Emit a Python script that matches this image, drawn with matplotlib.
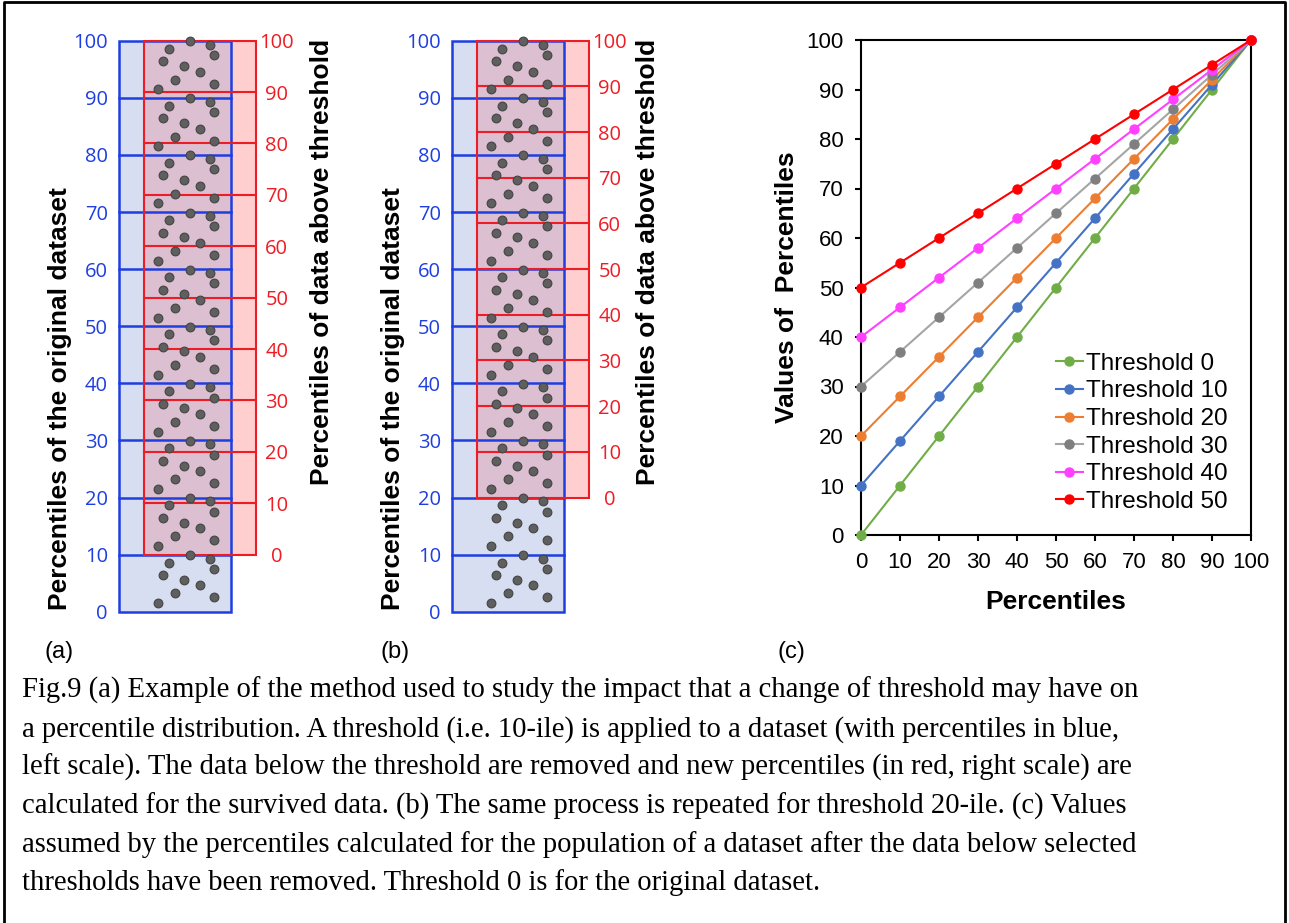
import numpy as np
import matplotlib.pyplot as plt
from matplotlib.patches import Rectangle
from matplotlib.lines import Line2D

# ---- data ----
blue_ticks = [0, 10, 20, 30, 40, 50, 60, 70, 80, 90, 100]
red_ticks = [0, 10, 20, 30, 40, 50, 60, 70, 80, 90, 100]
thresholds_ab = [10, 20]          # panels (a) and (b)

# dot pattern inside one decile of the box (x as fraction of box width, y in percentile units)
dot_x = [0.35, 0.50, 0.39, 0.45, 0.58, 0.72, 0.85, 0.85, 0.81, 0.63]
dot_y = [1.5, 3.2, 6.4, 8.6, 5.6, 4.6, 2.5, 7.5, 9.3, 9.9]
deciles = [0, 10, 20, 30, 40, 50, 60, 70, 80, 90]

percentiles = [0, 10, 20, 30, 40, 50, 60, 70, 80, 90, 100]
series_labels = ["Threshold 0", "Threshold 10", "Threshold 20",
                 "Threshold 30", "Threshold 40", "Threshold 50"]
thr0 = [0, 10, 20, 30, 40, 50, 60, 70, 80, 90, 100]
thr10 = [10, 19, 28, 37, 46, 55, 64, 73, 82, 91, 100]
thr20 = [20, 28, 36, 44, 52, 60, 68, 76, 84, 92, 100]
thr30 = [30, 37, 44, 51, 58, 65, 72, 79, 86, 93, 100]
thr40 = [40, 46, 52, 58, 64, 70, 76, 82, 88, 94, 100]
thr50 = [50, 55, 60, 65, 70, 75, 80, 85, 90, 95, 100]
series = [thr0, thr10, thr20, thr30, thr40, thr50]
series_colors = ["#70ad47", "#4472c4", "#ed7d31", "#a5a5a5", "#ff40ff", "#ff0000"]
marker_colors = ["#70ad47", "#4472c4", "#ed7d31", "#7f7f7f", "#ff40ff", "#ff0000"]

caption = [
    "Fig.9 (a) Example of the method used to study the impact that a change of threshold may have on",
    "a percentile distribution. A threshold (i.e. 10-ile) is applied to a dataset (with percentiles in blue,",
    "left scale). The data below the threshold are removed and new percentiles (in red, right scale) are",
    "calculated for the survived data. (b) The same process is repeated for threshold 20-ile. (c) Values",
    "assumed by the percentiles calculated for the population of a dataset after the data below selected",
    "thresholds have been removed. Threshold 0 is for the original dataset.",
]

W, H = 1289, 923
BLUE = "#1f3ee0"
RED = "#ee1c24"
SANS = ["Liberation Sans", "DejaVu Sans"]

fig = plt.figure(figsize=(W / 100, H / 100), dpi=100)


def px_axes(left, top, right, bottom):
    return fig.add_axes([left / W, 1 - bottom / H, (right - left) / W, (bottom - top) / H])


def ftext(x, y, s, **kw):
    return fig.text(x / W, 1 - y / H, s, **kw)


def box_panel(left, thr):
    # blue box is 112 px wide, red box shifted 25 px to the right
    ax = px_axes(left, 40.7, left + 137, 611.7)
    ax.set_xlim(0, 137 / 112)
    ax.set_ylim(0, 100)
    axr = ax.twinx()
    axr.set_ylim(-thr * 100 / (100 - thr), 100)
    for a in (ax, axr):
        for s in a.spines.values():
            s.set_visible(False)
        a.set_xticks([])
    ax.patch.set_visible(False)

    rx0, rx1 = 25 / 112, 137 / 112
    # fills
    ax.add_patch(Rectangle((0, 0), 1, 100, fc="#d7def1", ec="none", zorder=1))
    ax.add_patch(Rectangle((rx0, 0), rx1 - rx0, 100, fc="#ffcfcf", ec="none",
                           transform=axr.transData, zorder=1.1))
    ax.add_patch(Rectangle((rx0, thr), 1 - rx0, 100 - thr, fc="#dcbfd0", ec="none", zorder=1.2))

    # blue grid
    for t in blue_ticks[1:-1]:
        ax.add_line(Line2D([0, 1], [t, t], color=BLUE, lw=1.8, zorder=2, clip_on=False))
    ax.add_patch(Rectangle((0, 0), 1, 100, fc="none", ec=BLUE, lw=1.8, zorder=2, clip_on=False))

    # red grid
    for t in red_ticks[1:-1]:
        ax.add_line(Line2D([rx0, rx1], [t, t], color=RED, lw=1.5, zorder=3, clip_on=False,
                           transform=axr.transData))
    ax.add_patch(Rectangle((rx0, 0), rx1 - rx0, 100, fc="none", ec=RED, lw=1.5, zorder=3,
                           clip_on=False, transform=axr.transData))

    # data points
    xs = [x for d in deciles for x in dot_x]
    ys = [d + y for d in deciles for y in dot_y]
    ax.plot(xs, ys, "o", ms=6.3, mfc="#5f5f5f", mec="#444444", mew=0.8, zorder=4, clip_on=False)

    ax.set_yticks(blue_ticks)
    ax.tick_params(axis="y", length=0, pad=8, labelcolor=BLUE, labelsize=14.5)
    axr.set_yticks(red_ticks)
    axr.tick_params(axis="y", length=0, pad=15, labelcolor=RED, labelsize=14.5)
    for lab in ax.get_yticklabels() + axr.get_yticklabels():
        lab.set_fontfamily(["Open Sans", "DejaVu Sans"])
    for lab in axr.get_yticklabels():
        lab.set_horizontalalignment("center")
    return ax


box_panel(119, thresholds_ab[0])
box_panel(452, thresholds_ab[1])

lab_kw = dict(rotation=90, ha="center", va="center", fontsize=19, fontweight="bold", family=SANS)
ftext(60, 399, "Percentiles of the original dataset", **lab_kw)
ftext(322, 262, "Percentiles of data above threshold", **lab_kw)
ftext(393, 399, "Percentiles of the original dataset", **lab_kw)
ftext(648, 262, "Percentiles of data above threshold", **lab_kw)

# ---- panel (c) ----
axc = px_axes(861, 40, 1251, 535)
for ys, lab, c, mc in zip(series, series_labels, series_colors, marker_colors):
    axc.plot(percentiles, ys, "-o", color=c, lw=1.5, ms=6.5, mfc=mc, mec=mc,
             label=lab, clip_on=False, zorder=3)
axc.set_xlim(0, 100)
axc.set_ylim(0, 100)
axc.set_xticks(percentiles)
axc.set_yticks(percentiles)
for s in axc.spines.values():
    s.set_linewidth(1.5)
axc.tick_params(direction="out", length=4.5, width=1.5, labelsize=16, pad=8)
for lab in axc.get_xticklabels() + axc.get_yticklabels():
    lab.set_fontfamily(SANS)
axc.set_xlabel("Percentiles", fontsize=19, fontweight="bold", family=SANS, labelpad=12)
axc.set_ylabel("Values of  Percentiles", fontsize=19, fontweight="bold", family=SANS, labelpad=5)
leg = axc.legend(loc="upper left", bbox_to_anchor=(0.50, 0.368), frameon=False,
                 borderpad=0, borderaxespad=0, handlelength=1.1, handletextpad=0.15,
                 labelspacing=0.23, prop={"family": SANS, "size": 17.5})

# panel labels
for x, s in [(45, "(a)"), (380, "(b)"), (778, "(c)")]:
    ftext(x, 652, s, ha="left", va="center", fontsize=17, family=SANS)

# caption
for i, line in enumerate(caption):
    ftext(22, 698 + 38.4 * i, line, ha="left", va="baseline", fontsize=20.6,
          family=["Liberation Serif", "DejaVu Serif"])

# outer frame (left, top, right)
fig.add_artist(Line2D([4 / W, 4 / W, 1285 / W, 1285 / W], [0, 1 - 2 / H, 1 - 2 / H, 0],
                      color="black", lw=2, transform=fig.transFigure))

fig.savefig("out.png", dpi=100)
